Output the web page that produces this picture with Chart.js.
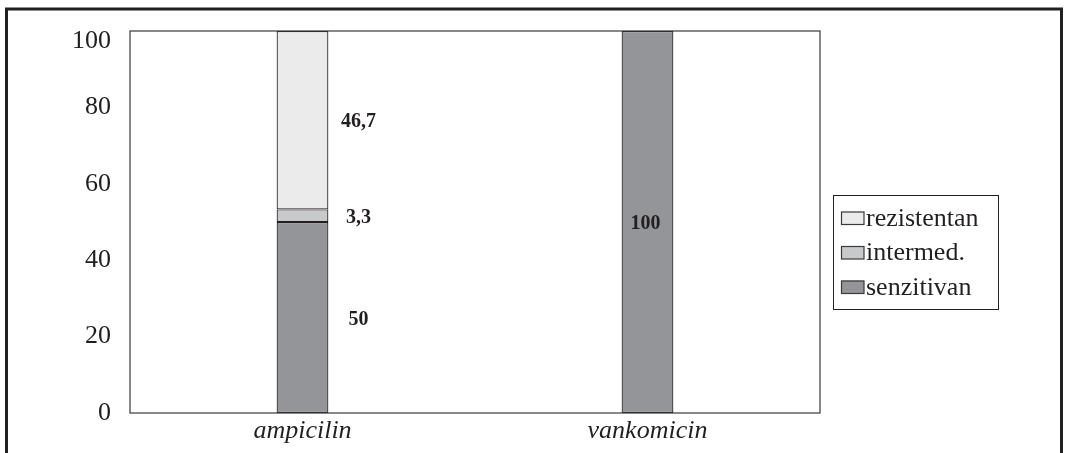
<!DOCTYPE html>
<html>
<head>
<meta charset="utf-8">
<script src="https://cdn.jsdelivr.net/npm/chart.js@4/dist/chart.umd.min.js"></script>
<style>
  html, body { margin: 0; padding: 0; background: #ffffff; }
  #wrap { width: 1065px; height: 453px; position: relative; }
</style>
</head>
<body>
<div id="wrap"><canvas id="c" width="1065" height="453"></canvas></div>
<script>
// Antibiotic susceptibility (%) per antibiotic
const categories = ['ampicilin', 'vankomicin'];
const senzitivan = [50, 100];
const intermed = [3.3, 0];
const rezistentan = [46.7, 0];
const yTicks = [0, 20, 40, 60, 80, 100];

const INK = '#231f20';
const SERIF = "'Liberation Serif', 'Times New Roman', serif";

// Outer frame around the whole figure
const framePlugin = {
  id: 'frame',
  beforeDraw(chart) {
    const ctx = chart.ctx;
    ctx.save();
    ctx.fillStyle = '#ffffff';
    ctx.fillRect(0, 0, chart.width, chart.height);
    ctx.strokeStyle = INK;
    ctx.lineWidth = 3;
    ctx.strokeRect(6.5, 9, 1055, 500);
    ctx.restore();
  },
  afterDatasetsDraw(chart) {
    // plot area border
    const a = chart.chartArea;
    const ctx = chart.ctx;
    ctx.save();
    ctx.strokeStyle = '#3a3a3a';
    ctx.lineWidth = 1.2;
    ctx.strokeRect(a.left, a.top, a.right - a.left, a.bottom - a.top);
    ctx.restore();
  }
};

// Value labels for each stacked segment
const valueLabels = {
  id: 'valueLabels',
  afterDatasetsDraw(chart, args, opts) {
    const ctx = chart.ctx;
    ctx.save();
    ctx.font = 'bold 20px ' + SERIF;
    ctx.fillStyle = INK;
    ctx.textAlign = 'center';
    ctx.textBaseline = 'middle';
    chart.data.datasets.forEach((ds, di) => {
      const meta = chart.getDatasetMeta(di);
      meta.data.forEach((bar, i) => {
        const v = ds.data[i];
        if (!v) return;
        const mid = (bar.y + bar.base) / 2;
        const dx = (opts.offsets && opts.offsets[i]) || 0;
        ctx.fillText(String(v).replace('.', ','), bar.x + dx, mid + 2);
      });
    });
    ctx.restore();
  }
};

// Boxed legend on the right
const boxLegend = {
  id: 'boxLegend',
  afterDraw(chart, args, opts) {
    const ctx = chart.ctx;
    const x = opts.x, y = opts.y, w = opts.w, h = opts.h;
    ctx.save();
    ctx.strokeStyle = INK;
    ctx.lineWidth = 1;
    ctx.strokeRect(x + 0.5, y + 0.5, w, h);
    const items = chart.data.datasets.slice().reverse();
    ctx.font = '26px ' + SERIF;
    ctx.textBaseline = 'middle';
    ctx.textAlign = 'left';
    items.forEach((ds, k) => {
      const cy = y + 23 + k * 34.5;
      ctx.fillStyle = ds.backgroundColor;
      ctx.fillRect(x + 8, cy - 6.5, 23, 13);
      ctx.strokeStyle = '#3a3a3a';
      ctx.lineWidth = 1.2;
      ctx.strokeRect(x + 8.5, cy - 6, 22.5, 12.5);
      ctx.fillStyle = INK;
      ctx.fillText(ds.label, x + 33, cy + 1);
    });
    ctx.restore();
  }
};

const barStyle = {
  borderColor: INK,
  borderSkipped: false,
  barPercentage: 0.15,
  categoryPercentage: 1.0
};

new Chart(document.getElementById('c'), {
  type: 'bar',
  data: {
    labels: categories,
    datasets: [
      Object.assign({ label: 'senzitivan', data: senzitivan, backgroundColor: '#939598',
        borderWidth: c => (c.raw ? 1.2 : 0) }, barStyle),
      Object.assign({ label: 'intermed.', data: intermed, backgroundColor: '#c8c9cb',
        borderWidth: c => (c.raw ? 1.2 : 0) }, barStyle),
      Object.assign({ label: 'rezistentan', data: rezistentan, backgroundColor: '#ebebec',
        borderWidth: c => (c.raw ? 1.2 : 0) }, barStyle)
    ]
  },
  options: {
    responsive: false,
    animation: false,
    layout: { padding: { left: 0, right: 245, top: 31, bottom: 0 } },
    plugins: {
      legend: { display: false },
      tooltip: { enabled: false },
      valueLabels: { offsets: [56, -2] },
      boxLegend: { x: 833, y: 195, w: 165, h: 114 }
    },
    scales: {
      x: {
        stacked: true,
        grid: { display: false, drawTicks: false },
        border: { display: false },
        afterFit: s => { s.height = 40; s.paddingLeft = 0; s.paddingRight = 0; },
        ticks: {
          padding: 3,
          color: INK,
          font: { family: SERIF, size: 26, style: 'italic' }
        }
      },
      y: {
        stacked: true,
        min: 0,
        max: 100,
        afterFit: s => { s.width = 130; s.paddingTop = 0; s.paddingBottom = 0; },
        afterBuildTicks: s => { s.ticks = yTicks.map(v => ({ value: v })); },
        grid: { display: false, drawTicks: false },
        border: { display: false },
        ticks: {
          padding: 19,
          color: INK,
          font: { family: SERIF, size: 26, lineHeight: 0.8 },
          // top label sits just inside the plot area
          callback: v => (v === 100 ? ['', String(v)] : String(v))
        }
      }
    }
  },
  plugins: [framePlugin, valueLabels, boxLegend]
});
</script>
</body>
</html>
